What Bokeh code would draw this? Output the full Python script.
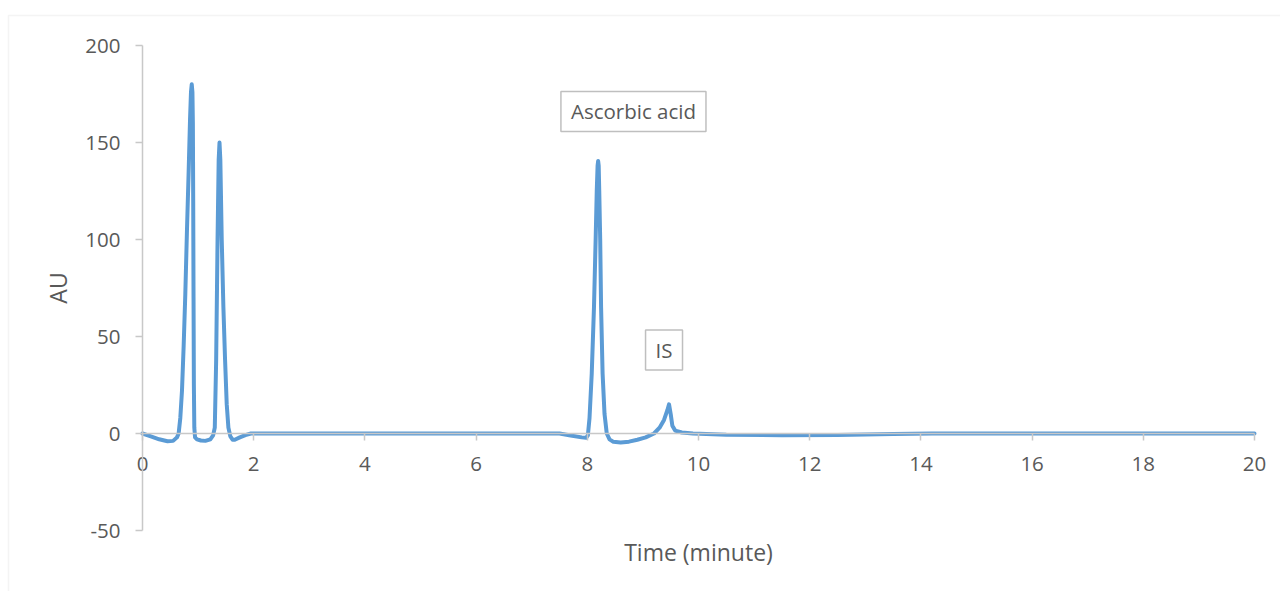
from bokeh.plotting import figure
from bokeh.models import LinearAxis, FixedTicker, Label, BoxAnnotation, Range1d
from bokeh.embed import file_html
from bokeh.resources import INLINE

# Chromatogram trace (time in minutes, absorbance units)
time_min = [0.00, 0.15, 0.30, 0.45, 0.55, 0.62, 0.65, 0.68, 0.71, 0.74, 0.77, 0.80, 0.83,
            0.855, 0.872, 0.886, 0.898, 0.906, 0.912, 0.918, 0.924, 0.932, 0.945, 0.98,
            1.05, 1.13, 1.22, 1.27, 1.30, 1.325, 1.35, 1.37, 1.385, 1.40, 1.425, 1.455,
            1.485, 1.515, 1.545, 1.58, 1.62, 1.66, 1.75, 1.85, 1.95,
            7.50, 7.70, 7.90, 7.98, 8.01, 8.04, 8.08, 8.12, 8.15, 8.17, 8.185, 8.195,
            8.205, 8.215, 8.232, 8.248, 8.275, 8.31, 8.35, 8.40, 8.47, 8.60, 8.75, 8.90,
            9.05, 9.20, 9.30, 9.38, 9.44, 9.47, 9.50, 9.53, 9.58, 9.70, 9.90,
            10.5, 11.5, 12.5, 13.5, 14.2, 20.0]
au = [0.0, -1.5, -3.0, -4.0, -3.8, -2.0, 0.0, 8.0, 22.0, 45.0, 72.0, 105.0, 135.0,
      162.0, 176.0, 180.0, 176.0, 160.0, 120.0, 70.0, 25.0, 3.0, -2.0, -3.0,
      -3.6, -3.8, -3.0, -1.0, 3.0, 38.0, 100.0, 141.0, 150.0, 141.0, 100.0, 65.0,
      38.0, 15.0, 3.0, -1.5, -3.2, -3.2, -2.0, -0.8, 0.0,
      0.0, -1.0, -2.0, -2.2, -1.0, 8.0, 31.0, 65.0, 100.0, 125.0, 138.0, 140.5,
      138.0, 125.0, 100.0, 65.0, 31.0, 10.0, 0.0, -3.0, -4.3, -4.6, -4.2, -3.2,
      -2.0, 0.0, 3.0, 7.0, 12.0, 15.0, 10.0, 4.0, 1.5, 0.5, 0.0,
      -0.6, -0.9, -0.8, -0.3, 0.0, 0.0]

x_ticks = [0, 2, 4, 6, 8, 10, 12, 14, 16, 18, 20]
y_ticks = [-50, 0, 50, 100, 150, 200]
y_tick_labels = ["-50", "0", "50", "100", "150", "200"]

peak_names = ["Ascorbic acid", "IS"]
peak_label_x = [8.83, 9.38]
peak_label_y = [166.0, 43.0]

FONT = "Open Sans"
TXT = "#595959"
AXC = "#c8c8c8"

# geometry: canvas size and where the data origin / scale sit on it
W, H = 1280, 591
X0_PX, PX_PER_MIN = 142.0, 55.6
Y0_PX, PX_PER_AU = 433.0, 1.94

x_start = -X0_PX / PX_PER_MIN
x_end = (W - X0_PX) / PX_PER_MIN
y_end = Y0_PX / PX_PER_AU
y_start = -(H - Y0_PX) / PX_PER_AU

p = figure(frame_width=W, frame_height=H,
           min_border=0, min_border_left=0, min_border_right=0,
           min_border_top=0, min_border_bottom=0,
           x_range=Range1d(x_start, x_end), y_range=Range1d(y_start, y_end),
           x_axis_location=None, y_axis_location=None,
           output_backend="svg", toolbar_location=None)
p.grid.visible = False
p.outline_line_color = None
p.background_fill_color = "white"
p.border_fill_color = "white"

# chart-area border
p.add_layout(BoxAnnotation(left=(8 - X0_PX) / PX_PER_MIN, top=(Y0_PX - 15) / PX_PER_AU,
                           right=x_end + 5, bottom=y_start - 30,
                           fill_color=None, line_color="#d9d9d9", line_width=1.5,
                           level="underlay"))

# y axis at x = 0
ya = LinearAxis(fixed_location=0, bounds=(-50, 200), ticker=FixedTicker(ticks=y_ticks))
ya.major_label_overrides = {t: s for t, s in zip(y_ticks, y_tick_labels)}
ya.axis_line_color = AXC
ya.axis_line_width = 1.5
ya.major_tick_line_color = AXC
ya.major_tick_line_width = 1.5
ya.major_tick_in = 0
ya.major_tick_out = 7
ya.minor_tick_line_color = None
ya.major_label_text_font = FONT
ya.major_label_text_font_size = "20.5px"
ya.major_label_text_color = TXT
ya.major_label_standoff = 15
ya.axis_label = "AU"
ya.axis_label_text_font = FONT
ya.axis_label_text_font_size = "23px"
ya.axis_label_text_font_style = "normal"
ya.axis_label_text_color = TXT
ya.axis_label_standoff = 8
p.add_layout(ya, "left")

# x axis crossing at y = 0
xa = LinearAxis(fixed_location=0, bounds=(0, 20), ticker=FixedTicker(ticks=x_ticks))
xa.axis_line_color = AXC
xa.axis_line_width = 1.5
xa.major_tick_line_color = AXC
xa.major_tick_line_width = 1.5
xa.major_tick_in = 0
xa.major_tick_out = 7
xa.minor_tick_line_color = None
xa.major_label_text_font = FONT
xa.major_label_text_font_size = "20.5px"
xa.major_label_text_color = TXT
xa.major_label_standoff = 16
p.add_layout(xa, "below")

p.line(time_min, au, line_color="#5b9bd5", line_width=4, line_join="round", line_cap="round")

# x axis title
p.add_layout(Label(x=10, y=-(551 - Y0_PX) / PX_PER_AU, text="Time (minute)",
                   text_align="center", text_baseline="middle",
                   text_font=FONT, text_font_size="23px", text_color=TXT))

for name, lx, ly in zip(peak_names, peak_label_x, peak_label_y):
    p.add_layout(Label(x=lx, y=ly, text=name, text_align="center", text_baseline="middle",
                       text_font=FONT, text_font_size="20.5px", text_color=TXT,
                       padding=dict(left=10, right=10, top=6, bottom=6),
                       border_line_color="#bfbfbf", border_line_width=1.5,
                       background_fill_color="white"))

open("out.html", "w").write(file_html(p, INLINE))
